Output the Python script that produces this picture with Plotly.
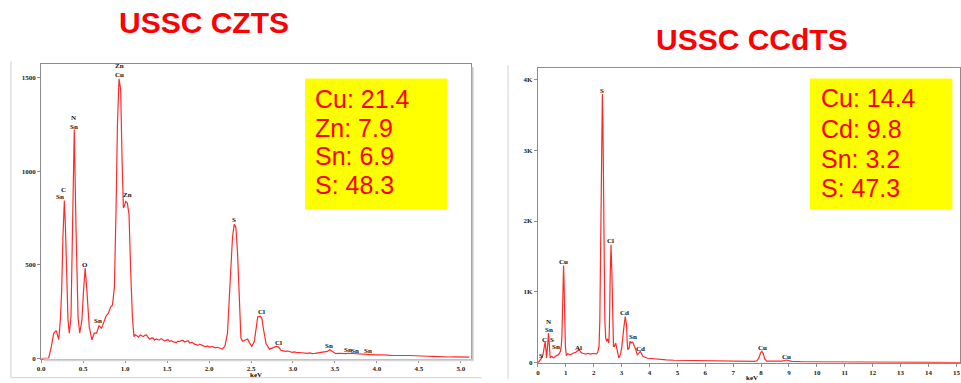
import plotly.graph_objects as go

W, H = 961, 383

# ---------------- data ----------------
cz_kev = [0.00, 0.05, 0.09, 0.12, 0.15, 0.18, 0.21, 0.23, 0.245, 0.26, 0.277, 0.29, 0.30, 0.32, 0.336,
          0.356, 0.375, 0.395, 0.415, 0.44, 0.46, 0.486, 0.506, 0.525, 0.545, 0.573, 0.605, 0.633, 0.66,
          0.69, 0.72, 0.743, 0.774, 0.80, 0.83, 0.85, 0.873, 0.893, 0.909, 0.928, 0.948, 0.964, 0.98, 0.99,
          1.007, 1.027, 1.047, 1.067, 1.087, 1.106, 1.12, 1.14, 1.16, 1.18, 1.20, 1.217, 1.236, 1.256, 1.276,
          1.296, 1.315, 1.335, 1.35, 1.37, 1.39, 1.41, 1.43, 1.453, 1.47, 1.49, 1.51, 1.53, 1.55, 1.57, 1.59,
          1.61, 1.63, 1.65, 1.67, 1.69, 1.71, 1.73, 1.75, 1.77, 1.80, 1.82, 1.845, 1.868, 1.89, 1.92, 1.94,
          1.96, 1.98, 2.006, 2.03, 2.05, 2.075, 2.10, 2.13, 2.16, 2.19, 2.22, 2.24, 2.26, 2.28, 2.30, 2.32,
          2.34, 2.36, 2.38, 2.40, 2.42, 2.44, 2.46, 2.48, 2.51, 2.54, 2.56, 2.58, 2.61, 2.63, 2.65, 2.68,
          2.72, 2.756, 2.80, 2.83, 2.855, 2.885, 2.915, 2.94, 2.96, 2.99, 3.02, 3.05, 3.08, 3.11, 3.14, 3.17,
          3.20, 3.23, 3.26, 3.29, 3.32, 3.35, 3.38, 3.41, 3.44, 3.47, 3.51, 3.54, 3.57, 3.60, 3.63, 3.66,
          3.69, 3.72, 3.75, 3.80, 3.86, 3.92, 3.98, 4.03, 4.08, 4.13, 4.18, 4.23, 4.28, 4.33, 4.38, 4.44,
          4.50, 4.55, 4.61, 4.66, 4.70, 4.77, 4.82, 4.87, 4.92, 4.97, 5.03, 5.10]
cz_cnt = [0, 0, 2, 60, 135, 149, 101, 211, 365, 650, 843, 700, 540, 205, 135,
          223, 713, 1222, 713, 220, 135, 205, 365, 483, 365, 170, 100, 135, 135,
          174, 162, 188, 227, 241, 276, 285, 381, 803, 1243, 1492, 1434, 1065, 803, 812,
          838, 830, 768, 470, 223, 117, 126, 121, 114, 126, 119, 117, 124, 126, 112,
          103, 110, 109, 98, 104, 101, 99, 106, 100, 94, 97, 102, 92, 95, 90, 87,
          85, 93, 90, 96, 97, 88, 92, 95, 83, 86, 78, 74, 70, 77, 68, 66,
          63, 67, 61, 64, 62, 57, 60, 56, 50, 67, 135, 311, 470, 650, 716, 700,
          560, 300, 109, 92, 96, 100, 104, 85, 65, 92, 170, 223, 226, 213, 153, 78,
          50, 56, 65, 61, 44, 41, 38, 40, 36, 33, 35, 31, 32, 30, 29, 28,
          30, 26, 27, 29, 31, 33, 35, 38, 47, 38, 26, 28, 27, 25, 26, 28,
          27, 25, 26, 24, 23, 21, 19, 20, 17, 18, 16, 17, 15, 16, 16, 14,
          13, 14, 12, 11, 10, 9, 10, 8, 9, 9, 8, 7]

cc_kev = [0.00, 0.06, 0.12, 0.18, 0.22, 0.26, 0.29, 0.31, 0.34, 0.38, 0.41, 0.44, 0.47, 0.50, 0.54,
          0.57, 0.61, 0.65, 0.70, 0.74, 0.78, 0.81, 0.84, 0.86, 0.88, 0.90, 0.92, 0.94, 0.96, 0.985,
          1.02, 1.07, 1.13, 1.19, 1.25, 1.31, 1.36, 1.40, 1.44, 1.47, 1.51, 1.54, 1.60, 1.66, 1.72,
          1.78, 1.84, 1.90, 1.96, 2.02, 2.08, 2.14, 2.19, 2.22, 2.26, 2.29, 2.31, 2.33, 2.36, 2.40,
          2.43, 2.45, 2.47, 2.49, 2.51, 2.54, 2.56, 2.59, 2.62, 2.65, 2.68, 2.71, 2.74, 2.77, 2.79,
          2.82, 2.84, 2.87, 2.90, 2.96, 3.01, 3.07, 3.10, 3.13, 3.16, 3.18, 3.20, 3.22, 3.27, 3.30,
          3.34, 3.37, 3.40, 3.46, 3.51, 3.56, 3.61, 3.67, 3.72, 3.76, 3.84, 3.93, 4.05, 4.17, 4.30,
          4.41, 4.60, 4.88, 5.10, 5.36, 5.60, 5.83, 6.10, 6.43, 6.70, 7.00, 7.30, 7.55, 7.75, 7.85,
          7.92, 7.98, 8.03, 8.08, 8.13, 8.20, 8.40, 8.60, 8.75, 8.85, 8.91, 8.98, 9.10, 9.50, 10.0,
          11.0, 12.0, 13.0, 14.0, 15.13]
cc_cnt = [0, 23, 60, 110, 220, 300, 180, 70, 200, 419, 250, 70, 85, 93, 75,
          70, 85, 100, 110, 116, 140, 163, 250, 372, 700, 1150, 1372, 1100, 600, 232,
          100, 130, 120, 116, 135, 140, 150, 163, 175, 186, 170, 150, 135, 130, 125,
          135, 130, 125, 132, 130, 128, 140, 232, 600, 2200, 3500, 3790, 3400, 1900, 600,
          349, 330, 302, 340, 330, 280, 450, 1200, 1665, 1300, 500, 233, 233, 260, 280,
          220, 186, 100, 70, 116, 233, 465, 600, 651, 580, 512, 300, 186, 210, 302,
          280, 295, 290, 240, 186, 116, 130, 163, 130, 93, 79, 65, 62, 56, 50,
          46, 42, 37, 36, 33, 30, 28, 25, 23, 24, 23, 21, 20, 22, 30,
          70, 140, 163, 130, 55, 25, 22, 20, 24, 34, 40, 33, 20, 16, 14,
          12, 10, 8, 6, 5]

# peak labels: (keV, counts, text)
cz_labels = [(0.932, 1560, "Zn"), (0.932, 1515, "Cu"), (0.391, 1282, "N"), (0.391, 1236, "Sn"),
             (0.269, 900, "C"), (0.221, 860, "Sn"), (0.521, 500, "O"), (1.027, 875, "Zn"),
             (0.683, 202, "Sn"), (2.303, 739, "S"), (2.622, 250, "Cl"), (2.828, 83, "Cl"),
             (3.428, 69, "Sn"), (3.653, 44, "Sn"), (3.744, 42, "Sn"), (3.894, 40, "Sn")]
cc_labels = [(0.12, 102, "S"), (0.24, 326, "C"), (0.51, 326, "S"), (0.38, 582, "N"), (0.38, 468, "Sn"),
             (0.65, 219, "Sn"), (0.92, 1418, "Cu"), (1.46, 209, "Al"), (2.29, 3837, "S"),
             (2.61, 1721, "Cl"), (3.11, 698, "Cd"), (3.42, 358, "Sn"), (3.68, 200, "Cd"),
             (8.05, 209, "Cu"), (8.91, 84, "Cu")]

cz_comp = ["Cu: 21.4", "Zn: 7.9", "Sn: 6.9", "S: 48.3"]
cc_comp = ["Cu: 14.4", "Cd: 9.8", "Sn: 3.2", "S: 47.3"]
cz_ticks = [0.0, 0.5, 1.0, 1.5, 2.0, 2.5, 3.0, 3.5, 4.0, 4.5, 5.0]
cc_ticks = list(range(0, 16))
cz_yticks = [0, 500, 1000, 1500]
cc_yticks = [0, 1000, 2000, 3000, 4000]
cc_yticktext = ["0", "1K", "2K", "3K", "4K"]


def fx(px):
    return px / W


def fy(py):
    return 1 - py / H


RED_LINE = "#ff2a2a"
FRAME = "#8c8c8c"
tickfont = dict(family="Liberation Serif", size=7, color="#222222", weight="bold")

fig = go.Figure()
fig.add_trace(go.Scatter(x=cz_kev, y=cz_cnt, mode="lines", line=dict(color=RED_LINE, width=1.2),
                         xaxis="x", yaxis="y", showlegend=False, hoverinfo="skip"))
fig.add_trace(go.Scatter(x=cc_kev, y=cc_cnt, mode="lines", line=dict(color=RED_LINE, width=1.2),
                         xaxis="x2", yaxis="y2", showlegend=False, hoverinfo="skip"))

axcommon = dict(showgrid=False, zeroline=False, showline=True, linecolor=FRAME, linewidth=1,
                mirror=True, ticks="outside", ticklen=3, tickcolor=FRAME, tickfont=tickfont)

fig.update_layout(
    width=W, height=H, margin=dict(l=0, r=0, t=0, b=0),
    paper_bgcolor="white", plot_bgcolor="white",
    xaxis=dict(domain=[fx(37.3), fx(469)], range=[0, 5.115], tickvals=cz_ticks,
               tickformat=".1f", anchor="y", **axcommon),
    yaxis=dict(domain=[fy(362.3), fy(65)], range=[0, 1570], tickvals=cz_yticks,
               anchor="x", **axcommon),
    xaxis2=dict(domain=[fx(536.7), 1.0], range=[0, 15.13], tickvals=cc_ticks,
                anchor="y2", **axcommon),
    yaxis2=dict(domain=[fy(366.7), fy(68.3)], range=[0, 4163], tickvals=cc_yticks,
                ticktext=cc_yticktext, anchor="x2", **axcommon),
)

shapes = []
# outer picture borders
for (x0, y0, x1, y1) in [(7, 62, 7, 381.7), (7, 381.7, 480, 381.7), (506.7, 66, 506.7, 383)]:
    shapes.append(dict(type="line", xref="paper", yref="paper", x0=fx(x0), y0=fy(y0),
                       x1=fx(x1), y1=fy(y1), line=dict(color="#d0d0d0", width=1)))
# shadow of left frame
shapes.append(dict(type="line", xref="paper", yref="paper", x0=fx(471), y0=fy(68), x1=fx(471),
                   y1=fy(364), line=dict(color="#c4c4c4", width=2)))
shapes.append(dict(type="line", xref="paper", yref="paper", x0=fx(40), y0=fy(364), x1=fx(472),
                   y1=fy(364), line=dict(color="#d4d4d4", width=2)))
# yellow boxes
shapes.append(dict(type="rect", xref="paper", yref="paper", x0=fx(302.7), x1=fx(445.7),
                   y0=fy(211.7), y1=fy(79.3), fillcolor="#ffff00", line=dict(width=0), layer="above"))
shapes.append(dict(type="rect", xref="paper", yref="paper", x0=fx(810), x1=fx(953.3),
                   y0=fy(211.7), y1=fy(79.3), fillcolor="#ffff00", line=dict(width=0), layer="above"))
fig.update_layout(shapes=shapes)

ann = []
# titles
ann.append(dict(text="<b>USSC CZTS</b>", x=fx(201), y=fy(23), xref="paper", yref="paper",
                showarrow=False, font=dict(family="Liberation Sans", size=30, color="#ff0000"),
                xanchor="center", yanchor="middle"))
ann.append(dict(text="<b>USSC CCdTS</b>", x=fx(752), y=fy(40), xref="paper", yref="paper",
                showarrow=False, font=dict(family="Liberation Sans", size=30, color="#ff0000"),
                xanchor="center", yanchor="middle"))
# composition text
for i, t in enumerate(cz_comp):
    yc = [100, 129.3, 157.7, 186.7][i]
    ann.append(dict(text=t, x=fx(311), y=fy(yc), xref="paper", yref="paper", showarrow=False,
                    font=dict(family="Liberation Sans", size=25, color="#ff0000"),
                    xanchor="left", yanchor="middle"))
for i, t in enumerate(cc_comp):
    yc = [99.3, 130.3, 160.3, 190][i]
    ann.append(dict(text=t, x=fx(819), y=fy(yc), xref="paper", yref="paper", showarrow=False,
                    font=dict(family="Liberation Sans", size=25, color="#ff0000"),
                    xanchor="left", yanchor="middle"))
# peak labels
lblfont = dict(family="Liberation Serif", size=7, color="#111111", weight="bold")
for (xk, yc, t) in cz_labels:
    ann.append(dict(text=t, x=xk, y=yc, xref="x", yref="y", showarrow=False, font=lblfont,
                    xanchor="center", yanchor="middle", borderpad=0))
for (xk, yc, t) in cc_labels:
    ann.append(dict(text=t, x=xk, y=yc, xref="x2", yref="y2", showarrow=False, font=lblfont,
                    xanchor="center", yanchor="middle", borderpad=0))
# axis titles
ann.append(dict(text="keV", x=fx(253), y=fy(379), xref="paper", yref="paper", showarrow=False,
                font=lblfont, xanchor="center", yanchor="middle", borderpad=0))
ann.append(dict(text="keV", x=fx(752), y=fy(381.5), xref="paper", yref="paper", showarrow=False,
                font=lblfont, xanchor="center", yanchor="middle", borderpad=0))
fig.update_layout(annotations=ann)

fig.write_html("out.html", config={"displayModeBar": False},
               post_script="document.body.style.margin='0';document.body.style.overflow='hidden';")
